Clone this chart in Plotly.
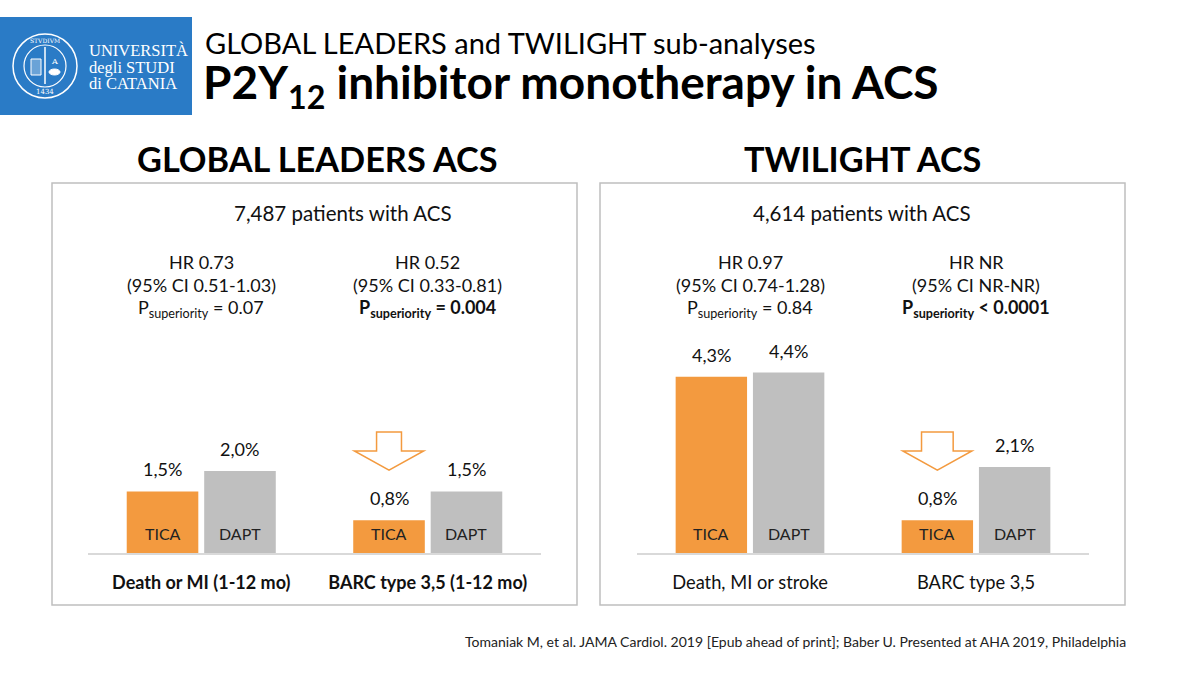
import plotly.graph_objects as go

# ---------------- data ----------------
gl_categories = ["Death or MI (1-12 mo)", "BARC type 3,5 (1-12 mo)"]
gl_tica = [1.5, 0.8]
gl_dapt = [2.0, 1.5]

tw_categories = ["Death, MI or stroke", "BARC type 3,5"]
tw_tica = [4.3, 0.8]
tw_dapt = [4.4, 2.1]

gl_hr = [["HR 0.73", "(95% CI 0.51-1.03)", "= 0.07"],
         ["HR 0.52", "(95% CI 0.33-0.81)", "= 0.004"]]
tw_hr = [["HR 0.97", "(95% CI 0.74-1.28)", "= 0.84"],
         ["HR NR", "(95% CI NR-NR)", "< 0.0001"]]
p_bold = [[False, True], [False, True]]

series_names = ["TICA", "DAPT"]

# ---------------- style ----------------
W, H = 1200, 674
ORANGE = "#F39A3F"
GRAY = "#BFBFBF"
BLUE = "#2A7BC6"
FONT = "Lato"
BAR_W = 0.316
OFFS = [-0.329, 0.013]


def px(x):
    return x / W


def py(y):
    return 1 - y / H


def note(x, y, text, size, color="#111", family=FONT, xanchor="center", yanchor="middle"):
    return dict(x=px(x), y=py(y), xref="paper", yref="paper", xanchor=xanchor, yanchor=yanchor,
                text=text, showarrow=False, font=dict(family=family, size=size, color=color))


fig = go.Figure()

panels = [
    dict(cats=gl_categories, vals=[gl_tica, gl_dapt], hr=gl_hr, bold=p_bold[0],
         xa="x", ya="y", dom=[88, 541], arrow_shaft=0.055),
    dict(cats=tw_categories, vals=[tw_tica, tw_dapt], hr=tw_hr, bold=p_bold[1],
         xa="x2", ya="y2", dom=[637, 1089], arrow_shaft=0.07),
]

annotations = []
shapes = []

for p in panels:
    for s, (name, vals, color) in enumerate(zip(series_names, p["vals"], [ORANGE, GRAY])):
        fig.add_trace(go.Bar(
            x=list(range(len(vals))), y=vals, width=BAR_W, offset=OFFS[s],
            marker=dict(color=color, line=dict(width=0)), name=name,
            xaxis=p["xa"], yaxis=p["ya"], showlegend=False, hoverinfo="skip"))
        for i, v in enumerate(vals):
            cx = i + OFFS[s] + BAR_W / 2
            annotations.append(dict(
                x=cx, y=v, xref=p["xa"], yref=p["ya"], xanchor="center", yanchor="bottom", yshift=9,
                text=f"{v:.1f}".replace(".", ",") + "%", showarrow=False,
                font=dict(family=FONT, size=18, color="#111")))
            annotations.append(dict(
                x=cx, y=0, xref=p["xa"], yref=p["ya"], xanchor="center", yanchor="bottom", yshift=8,
                text=name, showarrow=False,
                font=dict(family=FONT, size=16, color="#222")))
    # HR text blocks, centred over each endpoint group
    x0, x1 = p["dom"]
    for i, (l1, l2, pv) in enumerate(p["hr"]):
        cxp = x0 + (x1 - x0) * (i + 0.5) / 2.0
        annotations.append(note(cxp, 262, l1, 18))
        annotations.append(note(cxp, 285, l2, 18))
        ptxt = "P<sub>superiority</sub> " + pv
        if p["bold"][i]:
            ptxt = "<b>" + ptxt + "</b>"
        annotations.append(note(cxp, 308, ptxt, 18))
    # down arrow over the TICA bar of the bleeding endpoint
    ac = 1 + OFFS[0] + BAR_W / 2
    hw = 0.153
    sw = p["arrow_shaft"]
    ytop, yneck, yapex = 2.95, 2.49, 2.02
    path = (f"M {ac - sw} {ytop} L {ac + sw} {ytop} L {ac + sw} {yneck} L {ac + hw} {yneck} "
            f"L {ac} {yapex} L {ac - hw} {yneck} L {ac - sw} {yneck} Z")
    shapes.append(dict(type="path", path=path, xref=p["xa"], yref=p["ya"],
                       line=dict(color=ORANGE, width=1.5), fillcolor="white"))

# axes
axis_common = dict(range=[-0.5, 1.5], tickvals=[0, 1], showgrid=False, zeroline=False,
                   showline=True, linecolor="#D9D9D9", linewidth=2, ticks="",
                   ticklabelstandoff=12, fixedrange=True)
fig.update_layout(
    xaxis=dict(domain=[px(88), px(541)], anchor="y",
               ticktext=["<b>" + c + "</b>" for c in gl_categories],
               tickfont=dict(family=FONT, size=18, color="#111"), **axis_common),
    xaxis2=dict(domain=[px(637), px(1089)], anchor="y2",
                ticktext=tw_categories,
                tickfont=dict(family=FONT, size=18.3, color="#111"), **axis_common),
    yaxis=dict(domain=[py(553), py(348)], range=[0, 5], visible=False, fixedrange=True),
    yaxis2=dict(domain=[py(553), py(348)], range=[0, 5], visible=False, fixedrange=True, anchor="x2"),
)

# panel boxes
for (bx0, bx1) in [(52, 577), (600, 1125)]:
    shapes.append(dict(type="rect", xref="paper", yref="paper",
                       x0=px(bx0), x1=px(bx1), y0=py(605), y1=py(183),
                       line=dict(color="#BFBFBF", width=1.5), fillcolor="rgba(0,0,0,0)", layer="below"))

# panel headings
annotations += [
    note(317, 158, "<b>GLOBAL LEADERS ACS</b>", 34.3, "#000"),
    note(862, 158, "<b>TWILIGHT ACS</b>", 34.3, "#000"),
    note(343, 213, "7,487 patients with ACS", 20.5),
    note(862, 213, "4,614 patients with ACS", 20.5),
]

# slide title
annotations += [
    note(203, 42, "GLOBAL LEADERS and TWILIGHT sub-analyses", 29, "#000", xanchor="left"),
    note(201, 85, "<b>P2Y<sub>12</sub> inhibitor monotherapy in ACS</b>", 46, "#000", xanchor="left"),
    note(1128, 641,
         "Tomaniak M, et al. JAMA Cardiol. 2019 [Epub ahead of print]; Baber U. Presented at AHA 2019, Philadelphia",
         14, "#222", xanchor="right"),
]

# logo
shapes.append(dict(type="rect", xref="paper", yref="paper", x0=0, x1=px(192), y0=py(115), y1=py(17),
                   fillcolor=BLUE, line=dict(width=0)))
for r, w in [(32, 1.5), (21, 1.2)]:
    shapes.append(dict(type="circle", xref="paper", yref="paper",
                       x0=px(45 - r), x1=px(45 + r), y0=py(66 + r), y1=py(66 - r),
                       line=dict(color="white", width=w)))
shapes.append(dict(type="line", xref="paper", yref="paper", x0=px(45), x1=px(45), y0=py(84), y1=py(47),
                   line=dict(color="white", width=1.5)))
shapes.append(dict(type="rect", xref="paper", yref="paper", x0=px(31), x1=px(41), y0=py(75), y1=py(59),
                   line=dict(color="white", width=1), fillcolor="rgba(255,255,255,0.3)"))
shapes.append(dict(type="circle", xref="paper", yref="paper", x0=px(49), x1=px(60), y0=py(75), y1=py(69),
                   line=dict(color="white", width=1), fillcolor="white"))
annotations += [
    note(55, 62, "A", 8, "white", "DejaVu Serif"),
    note(45, 92, "1434", 7, "white", "DejaVu Serif"),
    note(45, 40, "STVDIVM", 6, "white", "DejaVu Serif"),
]
for t, yy in [("UNIVERSITÀ", 50), ("degli STUDI", 67), ("di CATANIA", 84)]:
    annotations.append(note(87, yy, t, 16.5, "white", "Liberation Serif", xanchor="left"))

fig.update_layout(
    width=W, height=H, margin=dict(l=0, r=0, t=0, b=0),
    paper_bgcolor="white", plot_bgcolor="rgba(0,0,0,0)",
    annotations=annotations, shapes=shapes, barmode="overlay",
    showlegend=False,
)

fig.write_html("out.html", config={"displayModeBar": False})
